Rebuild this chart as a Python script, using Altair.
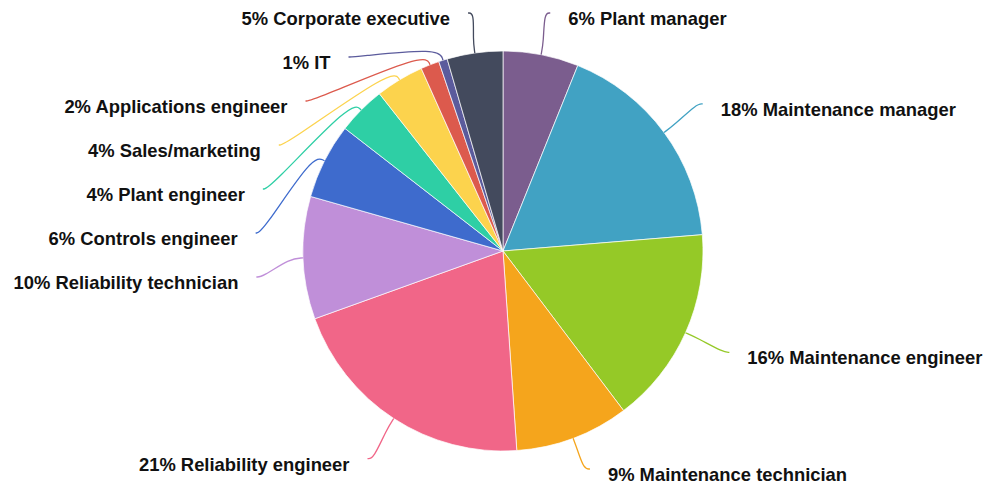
import math
import altair as alt
import pandas as pd

# ---- data ----
roles = ["Plant manager", "Maintenance manager", "Maintenance engineer",
         "Maintenance technician", "Reliability engineer", "Reliability technician",
         "Controls engineer", "Plant engineer", "Sales/marketing",
         "Applications engineer", "IT", "Corporate executive"]
shares = [6.1, 17.6, 16.0, 9.2, 20.6, 9.9, 6.1, 3.9, 3.9, 1.5, 0.7, 4.5]
pct_labels = ["6%", "18%", "16%", "9%", "21%", "10%", "6%", "4%", "4%", "2%", "1%", "5%"]
colors = ["#7b5d8e", "#41a2c3", "#95c927", "#f5a51c", "#f16688", "#c08fd9",
          "#3e6bcd", "#2ecfa5", "#fcd34d", "#dc5a4d", "#5b5b9c", "#434a5d"]

# ---- layout constants (pixels inside the view) ----
W, H = 976, 477
CX, CY, R = 495, 243, 200
R_ELBOW, R_END = 213, 248
GAP, STEP = 18, 44
BASE_OFF = 12          # text baseline below the line end
BL_MIN, BL_MAX = 17, 473

n = len(roles)
total = sum(shares)
geo = []
cum = 0.0
for i, s in enumerate(shares):
    mid = (cum + s / 2) / total * 2 * math.pi
    cum += s
    side = 1 if math.sin(mid) >= 0 else -1
    nat = CY - R_END * math.cos(mid)
    geo.append({"i": i, "mid": mid, "side": side, "nat": nat})

# simple label collision avoidance per side (top to bottom)
for sd in (1, -1):
    items = sorted([g for g in geo if g["side"] == sd], key=lambda g: g["nat"])
    prev = None
    for g in items:
        ey = min(max(g["nat"], BL_MIN - BASE_OFF), BL_MAX - BASE_OFF)
        shifted = False
        if prev is not None and prev + STEP > ey:
            ey = prev + STEP
            shifted = True
        g["ey"] = ey
        g["shifted"] = shifted
        prev = ey

line_rows, text_rows = [], []
for g in geo:
    i, mid, sd, ey = g["i"], g["mid"], g["side"], g["ey"]
    if g["shifted"]:
        ex = CX + sd * math.sqrt(max(R_END ** 2 - (ey - CY) ** 2, 0))
    else:
        ex = CX + R_END * math.sin(mid)
    pts = [
        (CX + R * math.sin(mid), CY - R * math.cos(mid)),
        (CX + R_ELBOW * math.sin(mid), CY - R_ELBOW * math.cos(mid)),
        (ex - sd * 6, ey),
        (ex, ey),
    ]
    for k, (px, py) in enumerate(pts):
        line_rows.append({"role": roles[i], "k": k, "x": px, "y": py})
    text_rows.append({"role": roles[i],
                      "label": f"{pct_labels[i]} {roles[i]}",
                      "side": "right" if sd > 0 else "left",
                      "x": ex + sd * GAP, "y": ey + BASE_OFF})

arc_df = pd.DataFrame({"role": roles, "share": shares, "idx": list(range(n))})
line_df = pd.DataFrame(line_rows)
text_df = pd.DataFrame(text_rows)

color = alt.Color("role:N", scale=alt.Scale(domain=roles, range=colors), legend=None)
xs = alt.X("x:Q", scale=alt.Scale(domain=[0, W], nice=False, zero=False), axis=None)
ys = alt.Y("y:Q", scale=alt.Scale(domain=[H, 0], nice=False, zero=False), axis=None)

pie = alt.Chart(arc_df).mark_arc(radius=R, stroke="#ffffff", strokeWidth=0.7).encode(
    theta=alt.Theta("share:Q", stack=True),
    color=color,
    order=alt.Order("idx:Q"),
    x=alt.value(CX),
    y=alt.value(CY),
)

lines = alt.Chart(line_df).mark_line(interpolate="basis", strokeWidth=1.3).encode(
    x=xs, y=ys, color=color, detail="role:N", order=alt.Order("k:Q"),
)

font = dict(font="Liberation Sans", fontSize=18.4, fontWeight="bold",
            color="#111111", baseline="alphabetic")
text_r = alt.Chart(text_df).transform_filter(alt.datum.side == "right").mark_text(
    align="left", **font).encode(x=xs, y=ys, text="label:N")
text_l = alt.Chart(text_df).transform_filter(alt.datum.side == "left").mark_text(
    align="right", **font).encode(x=xs, y=ys, text="label:N")

chart = alt.layer(pie, lines, text_r, text_l).properties(
    width=W, height=H, padding=0,
    autosize=alt.AutoSizeParams(type="none"),
).configure_view(stroke=None)

chart.save("out.html", embed_options={"renderer": "svg", "actions": False})
